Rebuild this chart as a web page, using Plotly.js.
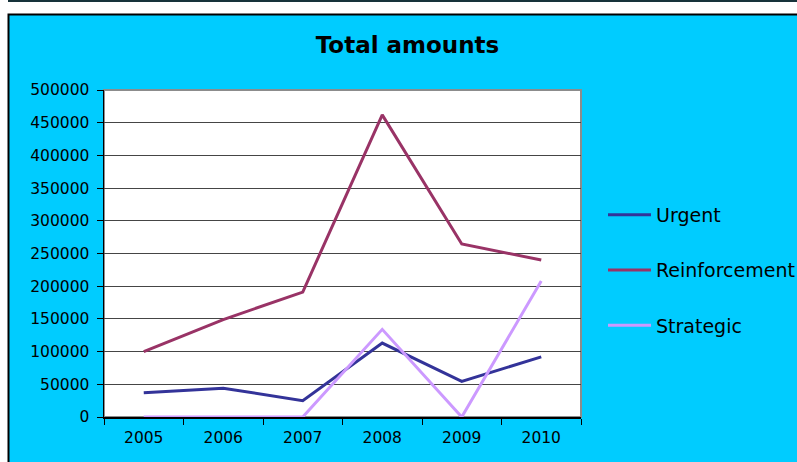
<!DOCTYPE html>
<html>
<head>
<meta charset="utf-8">
<script src="https://cdn.plot.ly/plotly-3.0.1.min.js"></script>
<style>
html,body{margin:0;padding:0;background:#fff;}
#chart{width:797px;height:462px;}
</style>
</head>
<body>
<div id="chart"></div>
<script>
const years = ["2005", "2006", "2007", "2008", "2009", "2010"];
const urgent = [37000, 44000, 25000, 113000, 54500, 92000];
const reinforcement = [100000, 149000, 191000, 462000, 264500, 240000];
const strategic = [0, 0, 0, 134000, 0, 208000];
const seriesNames = ["Urgent", "Reinforcement", "Strategic"];
const yTicks = [0, 50000, 100000, 150000, 200000, 250000, 300000, 350000, 400000, 450000, 500000];

const colors = ["#333399", "#993366", "#CC99FF"];
const values = [urgent, reinforcement, strategic];

const L = 104, R = 581, T = 90, B = 417, W = 797, H = 462;
const fx = px => (px - L) / (R - L);
const fy = py => (B - py) / (B - T);

const traces = values.map((v, i) => ({
  type: "scatter",
  mode: "lines",
  x: years,
  y: v,
  name: seriesNames[i],
  legendgroup: "g" + i,
  line: {color: colors[i], width: 3},
  hoverinfo: "skip"
}));

const font = "DejaVu Sans, Verdana, sans-serif";

const layout = {
  width: W, height: H,
  margin: {l: L, r: W - R, t: T, b: H - B, pad: 0},
  paper_bgcolor: "#ffffff",
  plot_bgcolor: "#ffffff",
  showlegend: true,
  title: {
    text: "<b>Total amounts</b>",
    font: {family: font, size: 23, color: "#000"},
    xref: "container", yref: "container",
    x: 407.5 / W, y: 1 - 45 / H, xanchor: "center", yanchor: "middle"
  },
  xaxis: {
    type: "category",
    range: [-0.5, 5.5],
    tickson: "boundaries",
    ticks: "outside", ticklen: 6, tickcolor: "#000", tickwidth: 1,
    ticklabelstandoff: 6,
    showline: true, linecolor: "#000", linewidth: 1.5,
    showgrid: false, zeroline: false,
    tickfont: {family: font, size: 15.5, color: "#000"},
    fixedrange: true, automargin: false
  },
  yaxis: {
    range: [0, 500000],
    tickvals: yTicks,
    ticktext: yTicks.map(String),
    ticks: "outside", ticklen: 6, tickcolor: "#000", tickwidth: 1,
    ticklabelstandoff: 4,
    showline: true, linecolor: "#000", linewidth: 1.5,
    showgrid: true, gridcolor: "#454545", gridwidth: 1,
    zeroline: false,
    tickfont: {family: font, size: 15.5, color: "#000"},
    fixedrange: true, automargin: false
  },
  legend: {
    xref: "container", yref: "container",
    x: 603 / W, y: 1 - 196 / H, xanchor: "left", yanchor: "top",
    bgcolor: "rgba(0,0,0,0)", borderwidth: 0,
    font: {family: font, size: 19, color: "#000"},
    traceorder: "grouped", tracegroupgap: 27.5,
    itemwidth: 43
  },
  shapes: [
    {type: "rect", xref: "paper", yref: "paper", layer: "below",
     x0: fx(8.5), x1: fx(820), y0: fy(480), y1: fy(14.5),
     fillcolor: "#00CCFF", line: {color: "#000", width: 2}},
    {type: "rect", xref: "paper", yref: "paper", layer: "below",
     x0: 0, x1: 1, y0: 0, y1: 1,
     fillcolor: "#ffffff", line: {color: "#8c8c8c", width: 2}},
    {type: "line", xref: "paper", yref: "paper", layer: "below",
     x0: fx(8), x1: fx(820), y0: fy(1), y1: fy(1),
     line: {color: "#17323a", width: 2}}
  ]
};

Plotly.newPlot("chart", traces, layout, {displayModeBar: false, staticPlot: true});
</script>
</body>
</html>
